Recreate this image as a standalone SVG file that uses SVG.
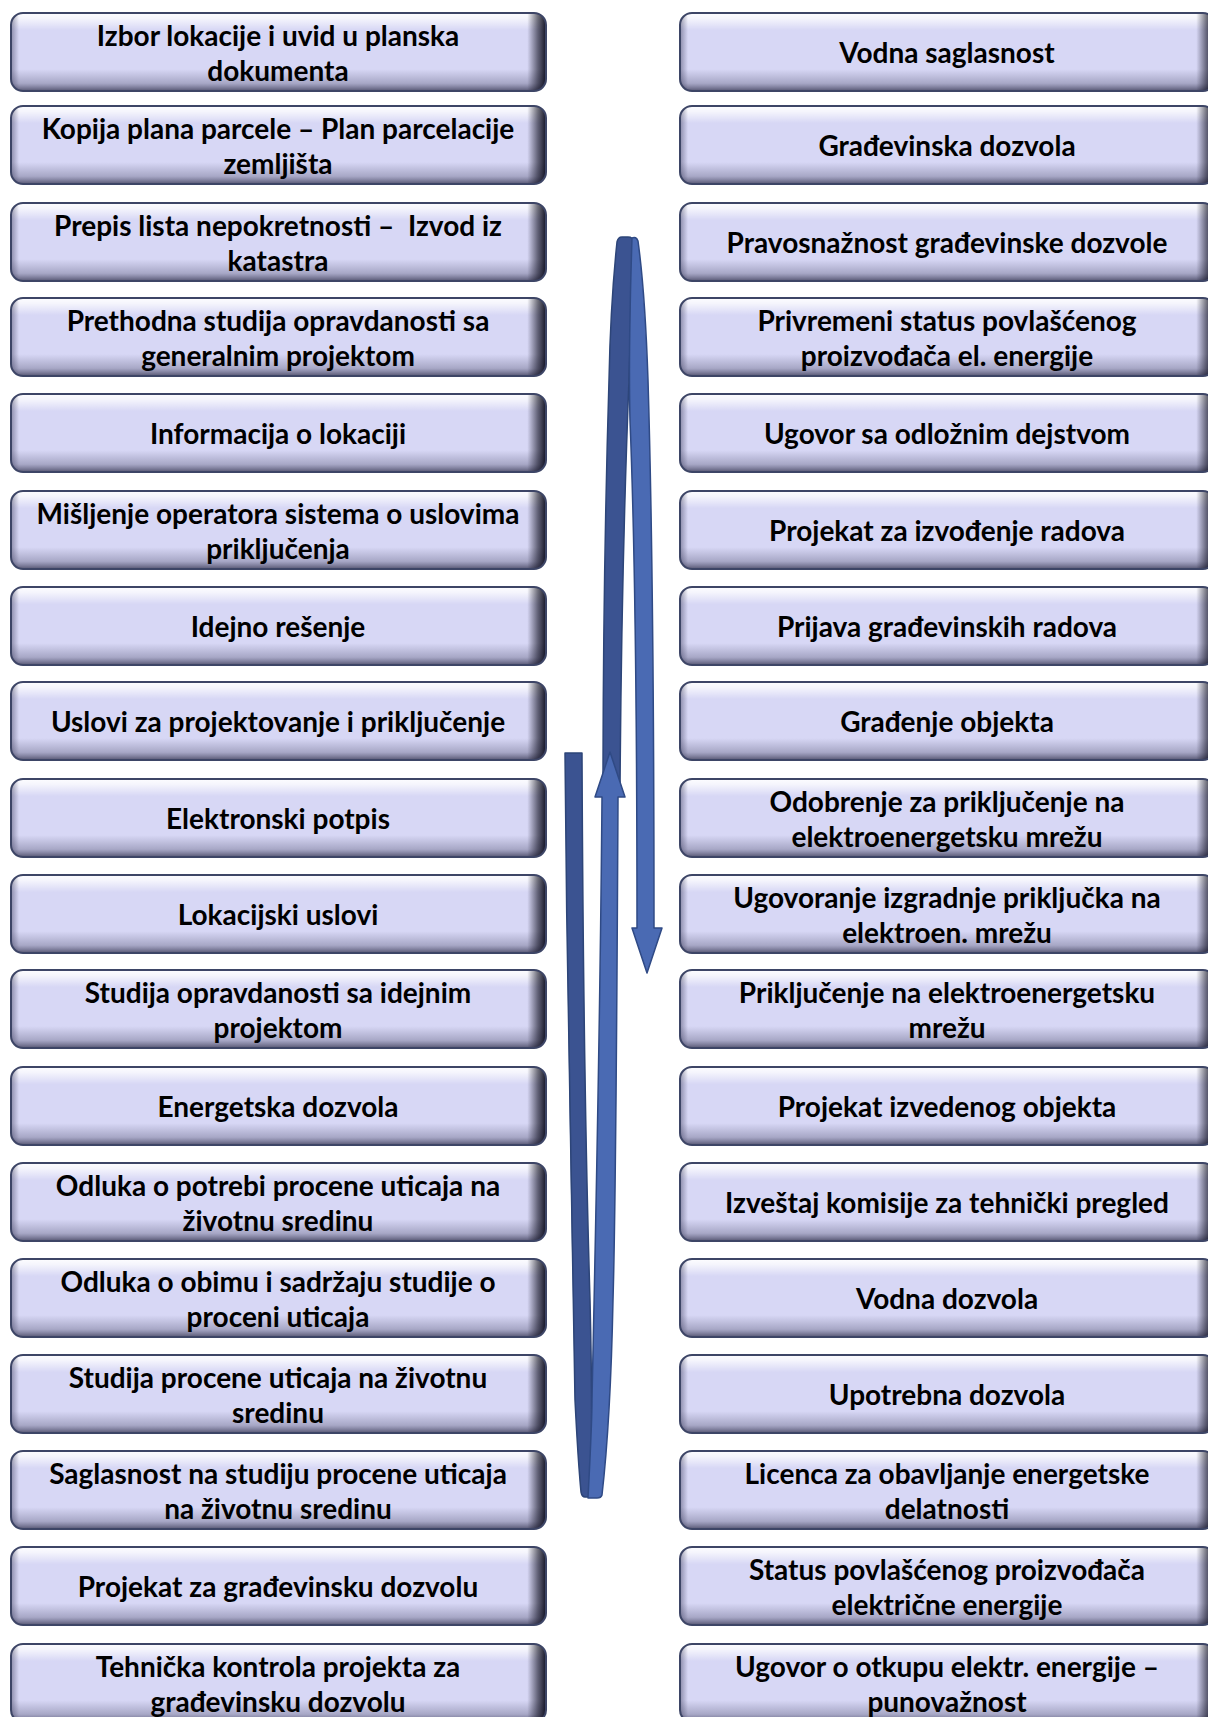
<svg xmlns="http://www.w3.org/2000/svg" xmlns:xlink="http://www.w3.org/1999/xlink" width="1208" height="1717" viewBox="0 0 1208 1717">
<defs>
<linearGradient id="gTop" x1="0" y1="0" x2="0" y2="1">
<stop offset="0" stop-color="#ffffff" stop-opacity="0.95"/>
<stop offset="0.07" stop-color="#ffffff" stop-opacity="0.75"/>
<stop offset="0.22" stop-color="#ffffff" stop-opacity="0"/>
</linearGradient>
<linearGradient id="gBot" x1="0" y1="0" x2="0" y2="1">
<stop offset="0.72" stop-color="#505070" stop-opacity="0"/>
<stop offset="0.9" stop-color="#505070" stop-opacity="0.35"/>
<stop offset="1" stop-color="#2a2a45" stop-opacity="0.75"/>
</linearGradient>
<linearGradient id="gSide" x1="0" y1="0" x2="1" y2="0">
<stop offset="0" stop-color="#303050" stop-opacity="0.45"/>
<stop offset="0.015" stop-color="#303050" stop-opacity="0"/>
<stop offset="0.965" stop-color="#101020" stop-opacity="0"/>
<stop offset="0.985" stop-color="#101020" stop-opacity="0.6"/>
<stop offset="1" stop-color="#000010" stop-opacity="0.9"/>
</linearGradient>
<g id="box">
<rect width="535" height="78" rx="12" fill="#d7d7f5"/>
<rect width="535" height="78" rx="12" fill="url(#gTop)"/>
<rect width="535" height="78" rx="12" fill="url(#gBot)"/>
<rect width="535" height="78" rx="12" fill="url(#gSide)"/>
<rect width="535" height="78" rx="12" fill="none" stroke="#3d4566" stroke-width="2"/>
</g>
</defs>
<style>
.t{font-family:Lato,"Liberation Sans",sans-serif;font-weight:700;font-size:28px;text-anchor:middle;fill:#000;white-space:pre}
.dk{fill:#3b5391;stroke:#2d4578;stroke-width:1.5;stroke-linejoin:round}
.lt{fill:#4a6ab3;stroke:#2f4a85;stroke-width:1.5;stroke-linejoin:round}
</style>
<rect width="1208" height="1717" fill="#ffffff"/>

<g id="left-nodes">
<g id="L0"><use xlink:href="#box" x="11" y="13"/><text class="t" x="278" y="45.5">Izbor lokacije i uvid u planska</text><text class="t" x="278" y="80.5">dokumenta</text></g>
<g id="L1"><use xlink:href="#box" x="11" y="106"/><text class="t" x="278" y="138.5">Kopija plana parcele – Plan parcelacije</text><text class="t" x="278" y="173.5">zemljišta</text></g>
<g id="L2"><use xlink:href="#box" x="11" y="203"/><text class="t" x="278" y="235.5">Prepis lista nepokretnosti –  Izvod iz</text><text class="t" x="278" y="270.5">katastra</text></g>
<g id="L3"><use xlink:href="#box" x="11" y="298"/><text class="t" x="278" y="330.5">Prethodna studija opravdanosti sa</text><text class="t" x="278" y="365.5">generalnim projektom</text></g>
<g id="L4"><use xlink:href="#box" x="11" y="394"/><text class="t" x="278" y="443.5">Informacija o lokaciji</text></g>
<g id="L5"><use xlink:href="#box" x="11" y="491"/><text class="t" x="278" y="523.5">Mišljenje operatora sistema o uslovima</text><text class="t" x="278" y="558.5">priključenja</text></g>
<g id="L6"><use xlink:href="#box" x="11" y="587"/><text class="t" x="278" y="636.5">Idejno rešenje</text></g>
<g id="L7"><use xlink:href="#box" x="11" y="682"/><text class="t" x="278" y="731.5">Uslovi za projektovanje i priključenje</text></g>
<g id="L8"><use xlink:href="#box" x="11" y="779"/><text class="t" x="278" y="828.5">Elektronski potpis</text></g>
<g id="L9"><use xlink:href="#box" x="11" y="875"/><text class="t" x="278" y="924.5">Lokacijski uslovi</text></g>
<g id="L10"><use xlink:href="#box" x="11" y="970"/><text class="t" x="278" y="1002.5">Studija opravdanosti sa idejnim</text><text class="t" x="278" y="1037.5">projektom</text></g>
<g id="L11"><use xlink:href="#box" x="11" y="1067"/><text class="t" x="278" y="1116.5">Energetska dozvola</text></g>
<g id="L12"><use xlink:href="#box" x="11" y="1163"/><text class="t" x="278" y="1195.5">Odluka o potrebi procene uticaja na</text><text class="t" x="278" y="1230.5">životnu sredinu</text></g>
<g id="L13"><use xlink:href="#box" x="11" y="1259"/><text class="t" x="278" y="1291.5">Odluka o obimu i sadržaju studije o</text><text class="t" x="278" y="1326.5">proceni uticaja</text></g>
<g id="L14"><use xlink:href="#box" x="11" y="1355"/><text class="t" x="278" y="1387.5">Studija procene uticaja na životnu</text><text class="t" x="278" y="1422.5">sredinu</text></g>
<g id="L15"><use xlink:href="#box" x="11" y="1451"/><text class="t" x="278" y="1483.5">Saglasnost na studiju procene uticaja</text><text class="t" x="278" y="1518.5">na životnu sredinu</text></g>
<g id="L16"><use xlink:href="#box" x="11" y="1547"/><text class="t" x="278" y="1596.5">Projekat za građevinsku dozvolu</text></g>
<g id="L17"><use xlink:href="#box" x="11" y="1644"/><text class="t" x="278" y="1676.5">Tehnička kontrola projekta za</text><text class="t" x="278" y="1711.5">građevinsku dozvolu</text></g>
</g>

<g id="right-nodes">
<g id="R0"><use xlink:href="#box" x="680" y="13"/><text class="t" x="947" y="62.5">Vodna saglasnost</text></g>
<g id="R1"><use xlink:href="#box" x="680" y="106"/><text class="t" x="947" y="155.5">Građevinska dozvola</text></g>
<g id="R2"><use xlink:href="#box" x="680" y="203"/><text class="t" x="947" y="252.5">Pravosnažnost građevinske dozvole</text></g>
<g id="R3"><use xlink:href="#box" x="680" y="298"/><text class="t" x="947" y="330.5">Privremeni status povlašćenog</text><text class="t" x="947" y="365.5">proizvođača el. energije</text></g>
<g id="R4"><use xlink:href="#box" x="680" y="394"/><text class="t" x="947" y="443.5">Ugovor sa odložnim dejstvom</text></g>
<g id="R5"><use xlink:href="#box" x="680" y="491"/><text class="t" x="947" y="540.5">Projekat za izvođenje radova</text></g>
<g id="R6"><use xlink:href="#box" x="680" y="587"/><text class="t" x="947" y="636.5">Prijava građevinskih radova</text></g>
<g id="R7"><use xlink:href="#box" x="680" y="682"/><text class="t" x="947" y="731.5">Građenje objekta</text></g>
<g id="R8"><use xlink:href="#box" x="680" y="779"/><text class="t" x="947" y="811.5">Odobrenje za priključenje na</text><text class="t" x="947" y="846.5">elektroenergetsku mrežu</text></g>
<g id="R9"><use xlink:href="#box" x="680" y="875"/><text class="t" x="947" y="907.5">Ugovoranje izgradnje priključka na</text><text class="t" x="947" y="942.5">elektroen. mrežu</text></g>
<g id="R10"><use xlink:href="#box" x="680" y="970"/><text class="t" x="947" y="1002.5">Priključenje na elektroenergetsku</text><text class="t" x="947" y="1037.5">mrežu</text></g>
<g id="R11"><use xlink:href="#box" x="680" y="1067"/><text class="t" x="947" y="1116.5">Projekat izvedenog objekta</text></g>
<g id="R12"><use xlink:href="#box" x="680" y="1163"/><text class="t" x="947" y="1212.5">Izveštaj komisije za tehnički pregled</text></g>
<g id="R13"><use xlink:href="#box" x="680" y="1259"/><text class="t" x="947" y="1308.5">Vodna dozvola</text></g>
<g id="R14"><use xlink:href="#box" x="680" y="1355"/><text class="t" x="947" y="1404.5">Upotrebna dozvola</text></g>
<g id="R15"><use xlink:href="#box" x="680" y="1451"/><text class="t" x="947" y="1483.5">Licenca za obavljanje energetske</text><text class="t" x="947" y="1518.5">delatnosti</text></g>
<g id="R16"><use xlink:href="#box" x="680" y="1547"/><text class="t" x="947" y="1579.5">Status povlašćenog proizvođača</text><text class="t" x="947" y="1614.5">električne energije</text></g>
<g id="R17"><use xlink:href="#box" x="680" y="1644"/><text class="t" x="947" y="1676.5">Ugovor o otkupu elektr. energije –</text><text class="t" x="947" y="1711.5">punovažnost</text></g>
</g>

<g id="connectors">
<path class="dk" d="M 603 792 L 620 792 C 621 640 625 480 629 380 C 631 310 633 262 634 242 Q 633 237 628 237 L 622 237 Q 618 237 617 242 C 613 280 610 330 609 380 C 606 480 603 640 603 792 Z"/>
<path class="dk" d="M 565 753 L 582 753 C 583 1000 587 1200 590 1300 C 592 1380 592 1440 591 1497 L 585 1497 Q 582 1497 581 1492 C 578 1460 576 1420 575 1400 C 573 1300 567 1000 565 753 Z"/>
<path class="lt" d="M 610 752 L 625 797 L 618 797 C 617 1000 616 1200 613 1300 C 611 1400 606 1460 602 1495 Q 601 1498 597 1498 L 588 1498 C 590 1460 592 1420 592 1400 C 594 1300 600 1050 602 797 L 595 797 Z"/>
<path class="lt" d="M 632 238 Q 636 236 638 241 C 642 270 646 320 648 380 C 651 480 654 640 654 928 L 662 928 L 647 973 L 632 928 L 637 928 C 637 700 634 520 630 420 C 629 380 630 300 632 238 Z"/>
</g>
</svg>
